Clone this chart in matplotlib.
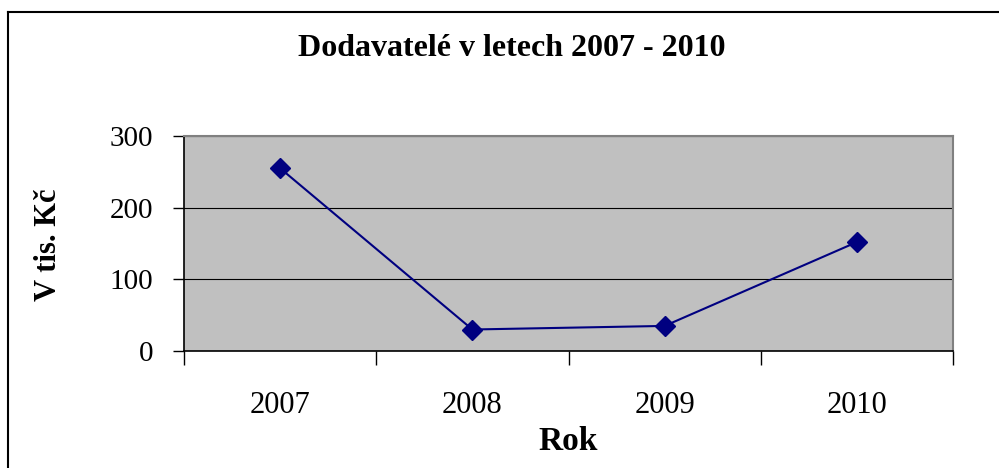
import matplotlib
matplotlib.use("Agg")
import matplotlib.pyplot as plt
from matplotlib.lines import Line2D

years = ["2007", "2008", "2009", "2010"]
values = [255, 30, 35, 152]
yticks = [0, 100, 200, 300]

plt.rcParams['font.family'] = ['Liberation Serif', 'DejaVu Serif']

fig = plt.figure(figsize=(9.99, 4.68), dpi=100)
ax = fig.add_axes([184/999, 1-351/468, (953-184)/999, (351-136)/468])
ax.set_facecolor('#C0C0C0')

x = list(range(len(years)))
ax.plot(x, values, color='#000080', lw=1.5, marker='D', markersize=10,
        markerfacecolor='#000080', markeredgecolor='#000080', zorder=3)

ax.set_xlim(-0.5, len(years) - 0.5)
ax.set_ylim(0, 300)
ax.set_yticks(yticks)
ax.set_yticklabels([str(t) for t in yticks], fontsize=21)
ax.yaxis.grid(True, color='#000000', lw=0.8)
ax.set_axisbelow(True)

ax.set_xticks([i - 0.5 for i in range(len(years) + 1)])
ax.set_xticklabels([])
ax.set_xticks(x, minor=True)
ax.set_xticklabels(years, minor=True, fontsize=22)
ax.tick_params(axis='x', which='major', direction='out', length=10, width=1, color='black')
ax.tick_params(axis='x', which='minor', length=0, pad=29)
ax.tick_params(axis='y', direction='out', length=8, width=1, pad=14)

for s in ['top', 'right']:
    ax.spines[s].set_color('#808080')
    ax.spines[s].set_linewidth(1.5)
for s in ['left', 'bottom']:
    ax.spines[s].set_color('black')
    ax.spines[s].set_linewidth(1.2)

fig.text(0.512, 1-49/468, "Dodavatelé v letech 2007 - 2010", ha='center', va='center',
         fontsize=23, fontweight='bold')
ax.set_xlabel("Rok", fontsize=24, fontweight='bold', labelpad=4)
fig.text(48/999, 1-245/468, "V tis. Kč", rotation=90, ha='center', va='center',
         fontsize=22, fontweight='bold')

# outer chart border (cropped on right and bottom)
fig.add_artist(Line2D([8/999, 8/999], [-0.1, 1-12/468], transform=fig.transFigure, color='black', lw=1.5))
fig.add_artist(Line2D([8/999, 1.1], [1-12/468, 1-12/468], transform=fig.transFigure, color='black', lw=1.5))

fig.savefig("out.png", dpi=100)
